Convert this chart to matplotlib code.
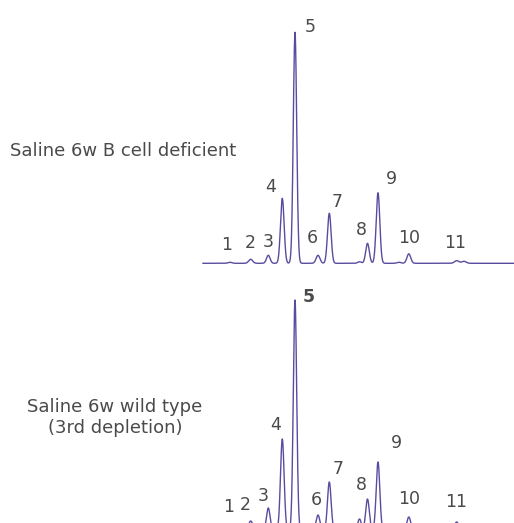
import numpy as np
import matplotlib
matplotlib.use("Agg")
import matplotlib.pyplot as plt

plt.rcParams['font.family'] = ['DejaVu Sans']

# peak positions (shared retention) and heights for the two samples
peak_pos = [230, 250.7, 268.3, 282.3, 295, 318, 329.3, 359.5, 367.5, 378, 399, 408.8, 456.7, 464]
top_heights = [1, 4, 8, 65, 231, 8, 50, 1.5, 20, 70.5, 1, 9.5, 2.6, 2]
bot_heights = [1, 9, 22, 91, 230, 15, 48, 11, 31, 68, 2, 13, 8, 3]
peak_width = [2.0, 2.0, 1.8, 1.8, 1.7, 1.9, 1.8, 1.8, 1.8, 1.8, 2.0, 1.9, 2.2, 2.2]

# labels: text, x, y (top trace / bottom trace)
top_labels = [("1", 227, 245), ("2", 250, 243), ("3", 268, 242), ("4", 271, 187),
              ("5", 310, 27), ("6", 312, 238), ("7", 337, 202), ("8", 361, 230),
              ("9", 391, 179), ("10", 409, 238), ("11", 455, 243)]
bot_labels = [("1", 229, 507), ("2", 245, 505), ("3", 263, 496), ("4", 276, 425),
              ("5", 309, 297), ("6", 316, 500), ("7", 338, 469), ("8", 361, 485),
              ("9", 396, 443), ("10", 409, 499), ("11", 456, 502)]

top_base = 263.3
bot_base = 530
line_col = '#5b4b9f'
txt_col = '#4a4a4a'


def trace(x, heights):
    y = np.zeros_like(x)
    for p, h, w in zip(peak_pos, heights, peak_width):
        y += h * np.exp(-0.5 * ((x - p) / w) ** 2)
    return y


fig = plt.figure(figsize=(5.14, 5.23), dpi=100)
ax = fig.add_axes([0, 0, 1, 1])
ax.set_xlim(0, 514)
ax.set_ylim(523, 0)
ax.axis('off')

x = np.linspace(203, 514, 3000)
ax.plot(x, top_base - trace(x, top_heights), color=line_col, lw=1.0)
ax.plot(x, bot_base - trace(x, bot_heights), color=line_col, lw=1.0)

for t, tx, ty in top_labels:
    ax.text(tx, ty, t, ha='center', va='center', fontsize=12.5, color=txt_col)
for t, tx, ty in bot_labels:
    ax.text(tx, ty, t, ha='center', va='center', fontsize=12.5, color=txt_col,
            fontweight='bold' if t == "5" else 'normal')

ax.text(10, 151, "Saline 6w B cell deficient", ha='left', va='center',
        fontsize=13, color=txt_col)
ax.text(115, 407, "Saline 6w wild type", ha='center', va='center',
        fontsize=13, color=txt_col)
ax.text(115, 428, "(3rd depletion)", ha='center', va='center',
        fontsize=13, color=txt_col)

fig.savefig("out.png", dpi=100)
